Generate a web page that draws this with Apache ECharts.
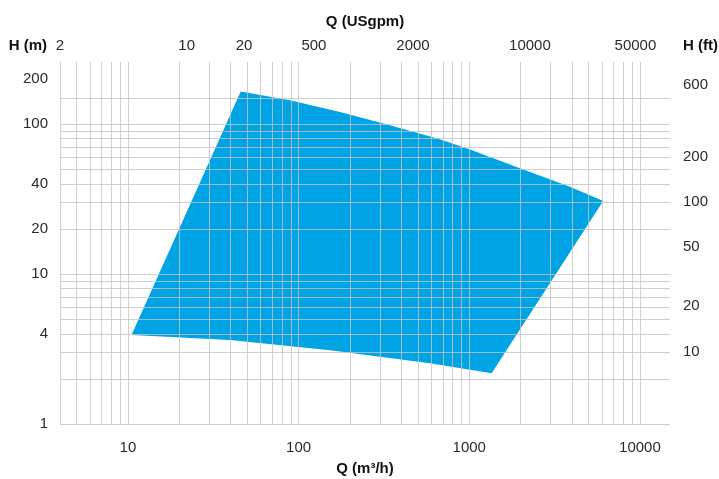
<!DOCTYPE html>
<html>
<head>
<meta charset="utf-8">
<script src="https://cdn.jsdelivr.net/npm/echarts@6/dist/echarts.min.js"></script>
<style>html,body{margin:0;padding:0;background:#fff}#c{width:719px;height:479px}</style>
</head>
<body>
<div id="c"></div>
<script>
// Operating envelope (Q in m3/h, H in m)
const envelopeQ = [10.5, 45.8, 89, 175, 343, 673, 1009, 1980, 3888, 6092, 1352, 588, 153, 39.6];
const envelopeH = [3.92, 165, 144.5, 120.8, 98.5, 79.4, 67.8, 50.9, 38.2, 30.7, 2.18, 2.54, 3.11, 3.63];

// Bottom axis (m3/h)
const qLabels = [10, 100, 1000, 10000];
const qGrid = [4,5,6,7,8,9,10,20,30,40,50,60,70,80,90,100,200,300,400,500,600,700,800,900,1000,2000,3000,4000,5000,6000,7000,8000,9000,10000];
// Top axis (US gpm) labels and where they sit on the m3/h scale
const gpmLabels = ['2', '10', '20', '500', '2000', '10000', '50000'];
const gpmLabelAtQ = [4, 22.1, 47.9, 123, 468, 2266, 9404];
// Left axis (m)
const hLabels = [1, 4, 10, 20, 40, 100, 200];
const hGrid = [1,2,3,4,5,6,7,8,9,10,20,30,40,50,60,70,80,90,100,150];
// Right axis (ft)
const ftLabels = [10, 20, 50, 100, 200, 600];
const FT_PER_M = 3.28084;

const font = 'Liberation Sans, Arial, sans-serif';
const gridColor = 'rgba(195,195,195,0.8)';
const plain = function (v) { return String(Math.round(v)); };

const chart = echarts.init(document.getElementById('c'), null, {renderer: 'canvas'});
chart.setOption({
  animation: false,
  grid: {left: 60, right: 49, top: 62, bottom: 55, containLabel: false, outerBoundsMode: 'none'},
  xAxis: [{
    type: 'log', logBase: 10, min: 4, max: 15000, position: 'bottom', z: 5,
    name: 'Q (m³/h)', nameLocation: 'middle', nameGap: 37,
    nameTextStyle: {fontFamily: font, fontSize: 15, fontWeight: 'bold', color: '#111'},
    axisLine: {show: false},
    axisTick: {show: false, customValues: qGrid},
    splitLine: {show: true, lineStyle: {color: gridColor, width: 1}},
    axisLabel: {customValues: qLabels, margin: 16, fontFamily: font, fontSize: 15, color: '#2a2a2a', formatter: plain}
  }, {
    type: 'log', logBase: 10, min: 4, max: 15000, position: 'top', z: 5,
    name: 'Q (USgpm)', nameLocation: 'middle', nameGap: 33,
    nameTextStyle: {fontFamily: font, fontSize: 15, fontWeight: 'bold', color: '#111'},
    axisLine: {show: false},
    axisTick: {show: false},
    splitLine: {show: false},
    axisLabel: {
      customValues: gpmLabelAtQ, margin: 9, fontFamily: font, fontSize: 15, color: '#2a2a2a',
      formatter: function (v) {
        let best = 0, bd = Infinity;
        gpmLabelAtQ.forEach(function (q, i) {
          const d = Math.abs(Math.log10(v / q));
          if (d < bd) { bd = d; best = i; }
        });
        return gpmLabels[best];
      }
    }
  }],
  yAxis: [{
    type: 'log', logBase: 10, min: 1, max: 260, position: 'left', z: 5,
    name: 'H (m)', nameLocation: 'end', nameGap: 16,
    nameTextStyle: {fontFamily: font, fontSize: 15, fontWeight: 'bold', color: '#111', align: 'right', verticalAlign: 'middle', padding: [0, 13, 0, 0]},
    axisLine: {show: false},
    axisTick: {show: false, customValues: hGrid},
    splitLine: {show: true, lineStyle: {color: gridColor, width: 1}},
    axisLabel: {customValues: hLabels, margin: 12, fontFamily: font, fontSize: 15, color: '#2a2a2a', formatter: plain}
  }, {
    type: 'log', logBase: 10, min: 1, max: 260, position: 'right', z: 5,
    name: 'H (ft)', nameLocation: 'end', nameGap: 16,
    nameTextStyle: {fontFamily: font, fontSize: 15, fontWeight: 'bold', color: '#111', align: 'left', verticalAlign: 'middle', padding: [0, 0, 0, 13]},
    axisLine: {show: false},
    axisTick: {show: false},
    splitLine: {show: false},
    axisLabel: {
      customValues: ftLabels.map(function (f) { return f / FT_PER_M; }),
      margin: 13, fontFamily: font, fontSize: 15, color: '#2a2a2a',
      formatter: function (v) { return String(Math.round(v * FT_PER_M)); }
    }
  }],
  series: [{
    type: 'custom', xAxisIndex: 0, yAxisIndex: 0, z: 1,
    data: [[envelopeQ[0], envelopeH[0]]],
    renderItem: function (params, api) {
      const pts = envelopeQ.map(function (q, i) { return api.coord([q, envelopeH[i]]); });
      return {type: 'polygon', shape: {points: pts}, style: {fill: '#00a3e3', stroke: null}};
    }
  }]
});
</script>
</body>
</html>
